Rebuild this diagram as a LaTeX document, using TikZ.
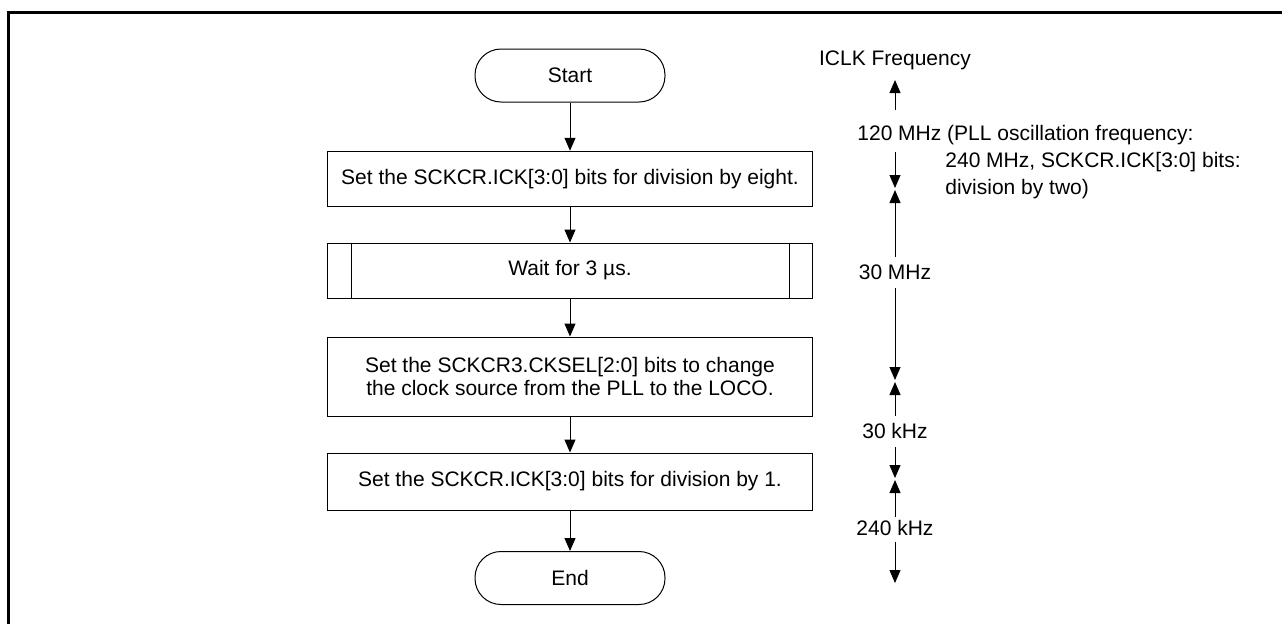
\documentclass[tikz,border=0pt]{standalone}
\usepackage{fontspec}
\setmainfont{Liberation Sans}
\usetikzlibrary{arrows.meta}
\begin{document}
\begin{tikzpicture}[x=0.5pt,y=-0.5pt,
  every node/.style={font=\fontsize{10.5pt}{11.5pt}\selectfont, inner sep=0pt},
  term/.style={draw, line width=0.5pt, rounded corners=13pt, minimum width=95pt, minimum height=26.5pt},
  proc/.style={draw, line width=0.5pt, minimum width=242.5pt, align=center},
  arr/.style={line width=0.5pt, -{Triangle[length=6.5pt,width=5.5pt]}},
  lbl/.style={anchor=base west}
]
\useasboundingbox (0,0) rectangle (1282,623);
% frame
\draw[line width=1.3pt, line join=miter] (8.7,630) -- (8.7,12.5) -- (1290,12.5);

% flowchart
\node[term] (start) at (570,75.5) {Start};
\node[proc, minimum height=27.75pt] (b1) at (570,179) {Set the SCKCR.ICK[3:0] bits for division by eight.};
\node[proc, minimum height=27.5pt] (wait) at (570,270.5) {Wait for 3 µs.};
\draw[line width=0.5pt] ([xshift=12pt]wait.north west) -- ([xshift=12pt]wait.south west);
\draw[line width=0.5pt] ([xshift=-12pt]wait.north east) -- ([xshift=-12pt]wait.south east);
\node[proc, minimum height=39.5pt] (b3) at (570,376.5) {Set the SCKCR3.CKSEL[2:0] bits to change\\the clock source from the PLL to the LOCO.};
\node[proc, minimum height=28.5pt] (b4) at (570,481.5) {Set the SCKCR.ICK[3:0] bits for division by 1.};
\node[term] (end) at (570,578) {End};

\draw[arr] (start) -- (b1);
\draw[arr] (b1) -- (wait);
\draw[arr] (wait) -- (b3);
\draw[arr] (b3) -- (b4);
\draw[arr] (b4) -- (end);

% frequency axis
\node[anchor=base] (iclk) at (895,65) {ICLK Frequency};
\node[lbl] (f120) at (857,140.5) {120 MHz (PLL oscillation frequency:};
\node[lbl] (f120b) at (945,167.5) {240 MHz, SCKCR.ICK[3:0] bits:};
\node[lbl] (f120c) at (945,194.5) {division by two)};
\node (f30m) at (895,272) {30 MHz};
\node (f30k) at (895,430.5) {30 kHz};
\node (f240k) at (895,528) {240 kHz};

\coordinate (t0) at (895,80);
\coordinate (a1) at (895,110);
\coordinate (a2) at (895,152);
\coordinate (j1d) at (895,188);
\coordinate (j1u) at (895,190);
\coordinate (a3) at (895,257);
\coordinate (a4) at (895,288);
\coordinate (j2d) at (895,380);
\coordinate (j2u) at (895,382);
\coordinate (a5) at (895,416);
\coordinate (a6) at (895,447);
\coordinate (j3d) at (895,478);
\coordinate (j3u) at (895,480);
\coordinate (a7) at (895,517);
\coordinate (a8) at (895,542);
\coordinate (t9) at (895,583);

\draw[arr] (a1) -- (t0);
\draw[arr] (a2) -- (j1d);
\draw[arr] (a3) -- (j1u);
\draw[arr] (a4) -- (j2d);
\draw[arr] (a5) -- (j2u);
\draw[arr] (a6) -- (j3d);
\draw[arr] (a7) -- (j3u);
\draw[arr] (a8) -- (t9);
\end{tikzpicture}
\end{document}
